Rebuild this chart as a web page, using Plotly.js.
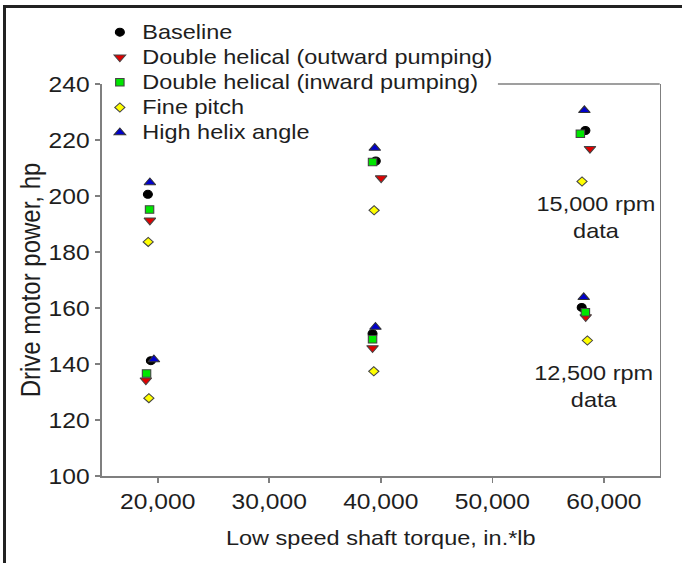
<!DOCTYPE html>
<html><head><meta charset="utf-8">
<script src="https://cdn.plot.ly/plotly-3.0.1.min.js"></script>
<style>
html,body{margin:0;padding:0;background:#fff;}
#wrap{position:relative;width:682px;height:563px;overflow:hidden;background:#fff;}
#chart{position:absolute;left:0;top:0;width:609px;height:563px;transform:scale(1.12,1);transform-origin:0 0;}
#frame{position:absolute;left:3px;top:5px;width:700px;height:600px;border-left:3px solid #222;border-top:3px solid #222;pointer-events:none;}
</style></head>
<body><div id="wrap"><div id="chart"></div><div id="frame"></div></div>
<script>
// Series names
const seriesNames = ["Baseline", "Double helical (outward pumping)", "Double helical (inward pumping)", "Fine pitch", "High helix angle"];

// Low speed shaft torque (in.*lb) for each point, per series
const baselineX = [19120, 19390, 39550, 39260, 58340, 58010];
const outwardX  = [19300, 18940, 40030, 39260, 58750, 58370];
const inwardX   = [19270, 19000, 39260, 39260, 57890, 58340];
const fineX     = [19150, 19210, 39400, 39370, 58040, 58520];
const helixX    = [19300, 19660, 39460, 39520, 58250, 58190];

// Drive motor power (hp) for each point, per series
const baselineY = [200.6, 141.2, 212.5, 150.8, 223.4, 160.2];
const outwardY  = [191.3, 134.2, 206.4, 145.7, 216.9, 156.8];
const inwardY   = [195.2, 136.6, 212.1, 148.8, 222.2, 158.5];
const fineY     = [183.6, 127.8, 194.9, 137.4, 205.2, 148.4];
const helixY    = [204.8, 141.6, 217.1, 153.2, 230.6, 163.8];

// Axis ticks
const xTicks = [20000, 30000, 40000, 50000, 60000];
const yTicks = [100, 120, 140, 160, 180, 200, 220, 240];

// Annotation texts
const noteTexts = ["15,000 rpm<br>data", "12,500 rpm<br>data"];

const FONT = "Liberation Sans, Arial, Helvetica, sans-serif";
const TXT = "#1e1e1e";
const AX = "#7f7f7f";

const xs = [baselineX, outwardX, inwardX, fineX, helixX];
const ys = [baselineY, outwardY, inwardY, fineY, helixY];
const styles = [
  {symbol: "circle", size: 8, color: "#000000", line: {color: "#000000", width: 1}},
  {symbol: "triangle-down", size: 9, color: "#e00000", line: {color: "#444444", width: 1}},
  {symbol: "square", size: 7.5, color: "#00e600", line: {color: "#444444", width: 1}},
  {symbol: "diamond", size: 7, color: "#ffff00", line: {color: "#444444", width: 1}},
  {symbol: "triangle-up", size: 9, color: "#0000cc", line: {color: "#333333", width: 1}}
];

const traces = seriesNames.map((n, i) => ({
  type: "scatter", mode: "markers",
  name: '<span style="font-size:21px">' + n + '</span>',
  x: xs[i], y: ys[i],
  marker: styles[i]
}));

const layout = {
  width: 609, height: 563,
  margin: {l: 91, r: 20, t: 84, b: 87},
  paper_bgcolor: "#ffffff", plot_bgcolor: "#ffffff",
  font: {family: FONT, color: TXT},
  showlegend: true,
  legend: {
    x: -0.008, y: 1.177, xanchor: "left", yanchor: "top",
    bgcolor: "rgba(0,0,0,0)", borderwidth: 0,
    font: {family: FONT, size: 17, color: TXT},
    itemwidth: 30, tracegroupgap: 0
  },
  xaxis: {
    range: [15000, 65000], tickvals: xTicks, tickformat: ",",
    ticks: "outside", ticklen: 5, tickwidth: 1.5, tickcolor: AX,
    showline: true, linecolor: AX, linewidth: 1.5, mirror: false,
    showgrid: false, zeroline: false,
    tickfont: {family: FONT, size: 22, color: TXT},
    title: {text: "Low speed shaft torque, in.*lb", font: {family: FONT, size: 21, color: TXT}, standoff: 17}
  },
  yaxis: {
    range: [100, 240], tickvals: yTicks,
    ticks: "outside", ticklen: 5, tickwidth: 1.5, tickcolor: AX,
    showline: true, linecolor: AX, linewidth: 1.5, mirror: true,
    showgrid: false, zeroline: false,
    tickfont: {family: FONT, size: 22, color: TXT},
    title: {text: "Drive motor power, hp", font: {family: FONT, size: 24, color: TXT}, standoff: 0}
  },
  shapes: [
    {type: "line", xref: "paper", yref: "paper", x0: 0.71, x1: 1, y0: 1, y1: 1, line: {color: AX, width: 1.5}}
  ],
  annotations: [
    {x: 59250, y: 192.4, xref: "x", yref: "y", text: noteTexts[0], showarrow: false, font: {family: FONT, size: 21, color: TXT}},
    {x: 59100, y: 132.3, xref: "x", yref: "y", text: noteTexts[1], showarrow: false, font: {family: FONT, size: 21, color: TXT}}
  ]
};

Plotly.newPlot("chart", traces, layout, {staticPlot: true, displayModeBar: false});
</script>
</body></html>
